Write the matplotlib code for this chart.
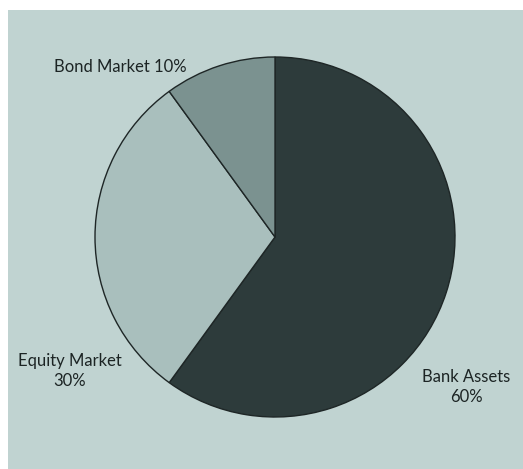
import matplotlib.pyplot as plt
from matplotlib.patches import Rectangle

labels = ['Bank Assets', 'Equity Market', 'Bond Market']
shares = [60, 30, 10]
colors = ['#2d3b3b', '#a9bfbd', '#7b9290']

W, H = 523, 469

fig = plt.figure(figsize=(W / 100, H / 100), dpi=100)
fig.patch.set_facecolor('white')
ax = fig.add_axes([0, 0, 1, 1])

# panel background (white strip at top and left like the scan)
ax.add_patch(Rectangle((8, 0), W - 8, H - 10, facecolor='#c0d3d1', edgecolor='none', zorder=0))

ax.pie(shares, colors=colors, startangle=90, counterclock=False,
       center=(275, H - 237), radius=180, frame=True,
       wedgeprops=dict(edgecolor='#1e2626', linewidth=1.0))
ax.set_xlim(0, W)
ax.set_ylim(0, H)
ax.set_aspect('equal')
ax.axis('off')

font = ['Lato', 'DejaVu Sans']
txt = dict(fontsize=12, color='#1c2424', family=font, ha='center', va='center')
ax.text(120, H - 67, '%s %d%%' % (labels[2], shares[2]), **txt)
ax.text(70, H - 371, '%s\n%d%%' % (labels[1], shares[1]), linespacing=1.25, **txt)
ax.text(466, H - 387, '%s\n%d%%' % (labels[0], shares[0]), linespacing=1.25, **txt)

fig.savefig('out.png', dpi=100)
